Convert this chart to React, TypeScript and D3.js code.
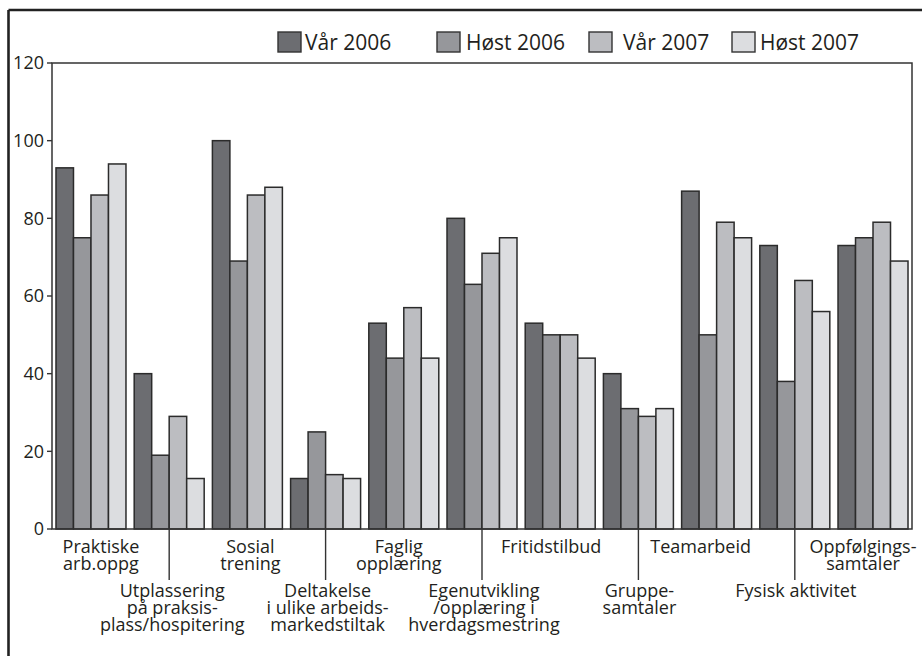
import * as d3 from "d3";

// data (percent)
const categories = [
  "Praktiske arb.oppg",
  "Utplassering på praksisplass/hospitering",
  "Sosial trening",
  "Deltakelse i ulike arbeidsmarkedstiltak",
  "Faglig opplæring",
  "Egenutvikling /opplæring i hverdagsmestring",
  "Fritidstilbud",
  "Gruppesamtaler",
  "Teamarbeid",
  "Fysisk aktivitet",
  "Oppfølgingssamtaler",
];
const labelLines = [
  ["Praktiske", "arb.oppg"],
  ["Utplassering", "på praksis-", "plass/hospitering"],
  ["Sosial", "trening"],
  ["Deltakelse", "i ulike arbeids-", "markedstiltak"],
  ["Faglig", "opplæring"],
  ["Egenutvikling", "/opplæring i", "hverdagsmestring"],
  ["Fritidstilbud"],
  ["Gruppe-", "samtaler"],
  ["Teamarbeid"],
  ["Fysisk aktivitet"],
  ["Oppfølgings-", "samtaler"],
];
const series = ["Vår 2006", "Høst 2006", "Vår 2007", "Høst 2007"];
const var2006 = [93, 40, 100, 13, 53, 80, 53, 40, 87, 73, 73];
const host2006 = [75, 19, 69, 25, 44, 63, 50, 31, 50, 38, 75];
const var2007 = [86, 29, 86, 14, 57, 71, 50, 29, 79, 64, 79];
const host2007 = [94, 13, 88, 13, 44, 75, 44, 31, 75, 56, 69];
const yTicks = [0, 20, 40, 60, 80, 100, 120];

// layout
const W = 922;
const H = 656;
const plot = { left: 52, right: 912, top: 63, bottom: 529 };
const colors = ["#6c6d71", "#96979b", "#bcbdc1", "#dcdde0"];
const ink = "#231f20";
const font = "'Open Sans', 'DejaVu Sans', sans-serif";
const labelDx = [10, 3, 3, 2, -5, 2, -9, 1, -16, 1, -10];
const legendX = [278, 437, 589, 732];
const legendTextDx = [27, 29, 34, 28];

export default function App() {
  const values = [var2006, host2006, var2007, host2007];

  const x = d3
    .scaleBand<string>()
    .domain(categories)
    .range([plot.left, plot.right])
    .paddingInner(0.105)
    .paddingOuter(0.051);

  const xs = d3
    .scaleBand<string>()
    .domain(series)
    .range([0, x.bandwidth()]);

  const y = d3.scaleLinear().domain([0, 120]).range([plot.bottom, plot.top]);

  const center = (c: string) => (x(c) as number) + x.bandwidth() / 2;

  return (
    <svg
      width={W}
      height={H}
      style={{ position: "absolute", left: 0, top: 0, background: "#fff" }}
      fontFamily={font}
    >
      {/* outer frame (only top and left visible) */}
      <line x1={8.5} x2={W + 5} y1={10} y2={10} stroke="#222" strokeWidth={2.6} />
      <line x1={8.5} x2={8.5} y1={10} y2={H + 5} stroke="#222" strokeWidth={2.6} />

      {/* legend */}
      {series.map((s, i) => (
        <g key={s}>
          <rect
            x={legendX[i]}
            y={32}
            width={23}
            height={20}
            fill={colors[i]}
            stroke="#333"
            strokeWidth={1.4}
          />
          <text x={legendX[i] + legendTextDx[i]} y={50} fontSize={21} fill={ink}>
            {s}
          </text>
        </g>
      ))}

      {/* bars */}
      {categories.map((c, ci) => (
        <g key={c} transform={`translate(${x(c)},0)`}>
          {series.map((s, si) => (
            <rect
              key={s}
              x={xs(s) as number}
              y={y(values[si][ci])}
              width={xs.bandwidth()}
              height={y(0) - y(values[si][ci])}
              fill={colors[si]}
              stroke="#2b2b2b"
              strokeWidth={1.5}
            />
          ))}
        </g>
      ))}

      {/* plot box */}
      <rect
        x={plot.left}
        y={plot.top}
        width={plot.right - plot.left}
        height={plot.bottom - plot.top}
        fill="none"
        stroke="#333"
        strokeWidth={1.5}
      />

      {/* y axis ticks */}
      {yTicks.map((t) => (
        <g key={t}>
          <line x1={plot.left - 5} x2={plot.left} y1={y(t)} y2={y(t)} stroke="#333" strokeWidth={1.4} />
          <text
            x={plot.left - 8}
            y={y(t)}
            dy="0.36em"
            textAnchor="end"
            fontSize={18}
            fill={ink}
          >
            {t}
          </text>
        </g>
      ))}

      {/* x labels: alternate rows, lower row hangs from leader lines */}
      {categories.map((c, ci) => {
        const cx = center(c) + labelDx[ci];
        const lower = ci % 2 === 1;
        const y0 = lower ? 597 : 552.5;
        return (
          <g key={c}>
            {lower && (
              <line
                x1={center(c)}
                x2={center(c)}
                y1={plot.bottom + 1}
                y2={580}
                stroke="#333"
                strokeWidth={1.4}
              />
            )}
            <text textAnchor="middle" fontSize={18} fill={ink}>
              {labelLines[ci].map((l, li) => (
                <tspan key={li} x={cx} y={y0 + li * 17}>
                  {l}
                </tspan>
              ))}
            </text>
          </g>
        );
      })}
    </svg>
  );
}
